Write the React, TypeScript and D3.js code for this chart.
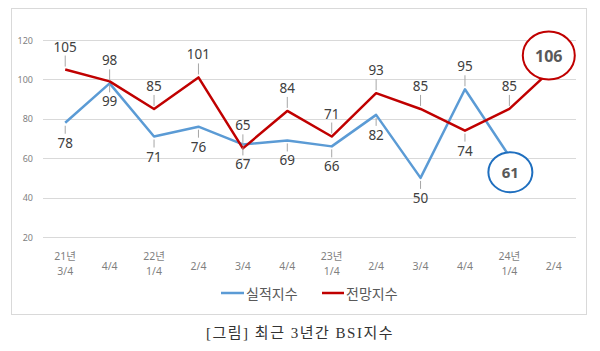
import React from "react";
import * as d3 from "d3";

const categories = ["21년\n3/4", "4/4", "22년\n1/4", "2/4", "3/4", "4/4", "23년\n1/4", "2/4", "3/4", "4/4", "24년\n1/4", "2/4"];
const actual: (number | null)[] = [78, 98, 71, 76, 67, 69, 66, 82, 50, 95, 61, null];
const forecast: number[] = [105, 99, 85, 101, 65, 84, 71, 93, 85, 74, 85, 106];
const actualLabelPos = ["b", "a", "b", "b", "b", "b", "b", "b", "b", "a", "c", ""];
const forecastLabelPos = ["a", "b", "a", "a", "a", "a", "a", "a", "a", "b", "a", "c"];
const yTicks = [20, 40, 60, 80, 100, 120];
const seriesNames = ["실적지수", "전망지수"];

const BLUE = "#5b9bd5";
const RED = "#c00000";

export default function App() {
  const W = 600, H = 351;
  const x = d3.scalePoint<number>().domain(d3.range(categories.length)).range([43, 576]).padding(0.5);
  const y = d3.scaleLinear().domain([20, 120]).range([237, 40]);

  const lineGen = d3.line<[number, number | null]>()
    .defined((d) => d[1] != null)
    .x((d) => x(d[0])!)
    .y((d) => y(d[1] as number));

  const aPath = lineGen(actual.map((v, i) => [i, v]))!;
  const fPath = lineGen(forecast.map((v, i) => [i, v]))!;

  const labels: any[] = [];
  const addLabels = (vals: (number | null)[], pos: string[], key: string) => {
    vals.forEach((v, i) => {
      if (v == null || pos[i] === "c" || pos[i] === "") return;
      const px = x(i)!, py = y(v);
      const above = pos[i] === "a";
      const ly = above ? py - 23 : py + 20;
      labels.push(
        <g key={key + i}>
          <line x1={px} x2={px} y1={above ? py - 3 : py + 3} y2={above ? ly + 9 : ly - 9} stroke="#a6a6a6" strokeWidth={1} />
          <text x={px} y={ly} textAnchor="middle" dominantBaseline="central" fontSize={13.5} fill="#404040">{v}</text>
        </g>
      );
    });
  };
  addLabels(actual, actualLabelPos, "a");
  addLabels(forecast, forecastLabelPos, "f");

  const ai = actualLabelPos.indexOf("c");
  const fi = forecastLabelPos.indexOf("c");

  return (
    <svg width={W} height={H} style={{ position: "absolute", left: 0, top: 0, fontFamily: "'Noto Sans', 'Noto Sans CJK KR', sans-serif" }}>
      <rect x={0} y={0} width={W} height={H} fill="#fff" />
      <rect x={11.5} y={8.5} width={575} height={306} fill="none" stroke="#d9d9d9" strokeWidth={1} />
      {yTicks.map((t) => (
        <g key={t}>
          <line x1={43} x2={576} y1={Math.round(y(t)) + 0.5} y2={Math.round(y(t)) + 0.5} stroke="#d9d9d9" strokeWidth={1} />
          <text x={33} y={y(t)} textAnchor="end" dominantBaseline="central" fontSize={9} fill="#7f7f7f">{t}</text>
        </g>
      ))}
      {categories.map((c, i) => {
        const parts = c.split("\n");
        const cx = x(i)!;
        return parts.length === 2 ? (
          <g key={i}>
            <text x={cx} y={256} textAnchor="middle" dominantBaseline="central" fontSize={10.5} fill="#7f7f7f">{parts[0]}</text>
            <text x={cx} y={271} textAnchor="middle" dominantBaseline="central" fontSize={10.5} fill="#7f7f7f">{parts[1]}</text>
          </g>
        ) : (
          <text key={i} x={cx} y={265.5} textAnchor="middle" dominantBaseline="central" fontSize={10.5} fill="#7f7f7f">{parts[0]}</text>
        );
      })}
      <path d={aPath} fill="none" stroke={BLUE} strokeWidth={2.5} strokeLinejoin="round" />
      <path d={fPath} fill="none" stroke={RED} strokeWidth={2.5} strokeLinejoin="round" />
      {labels}
      {ai >= 0 && (
        <g>
          <ellipse cx={x(ai)! + 1} cy={y(actual[ai] as number) + 16} rx={22} ry={20} fill="#fff" stroke="#1f6fbf" strokeWidth={2} />
          <text x={x(ai)! + 1} y={y(actual[ai] as number) + 16} textAnchor="middle" dominantBaseline="central" fontSize={15} fontWeight="bold" fill="#595959">{actual[ai]}</text>
        </g>
      )}
      {fi >= 0 && (
        <g>
          <ellipse cx={x(fi)! - 5} cy={y(forecast[fi]) - 12} rx={26} ry={24} fill="#fff" stroke={RED} strokeWidth={2} />
          <text x={x(fi)! - 5} y={y(forecast[fi]) - 12} textAnchor="middle" dominantBaseline="central" fontSize={16} fontWeight="bold" fill="#595959">{forecast[fi]}</text>
        </g>
      )}
      <g fontFamily="'Noto Sans CJK KR', sans-serif" fontSize={14} fill="#595959">
        <line x1={221} x2={244} y1={293} y2={293} stroke={BLUE} strokeWidth={2.5} />
        <text x={246} y={293} dominantBaseline="central">{seriesNames[0]}</text>
        <line x1={322} x2={344} y1={293} y2={293} stroke={RED} strokeWidth={2.5} />
        <text x={346} y={293} dominantBaseline="central">{seriesNames[1]}</text>
      </g>
      <text x={300} y={333} textAnchor="middle" dominantBaseline="central" fontSize={15} letterSpacing={1.5} fill="#333" fontFamily="'Liberation Serif', 'Noto Sans CJK KR', serif">[그림] 최근 3년간 BSI지수</text>
    </svg>
  );
}
